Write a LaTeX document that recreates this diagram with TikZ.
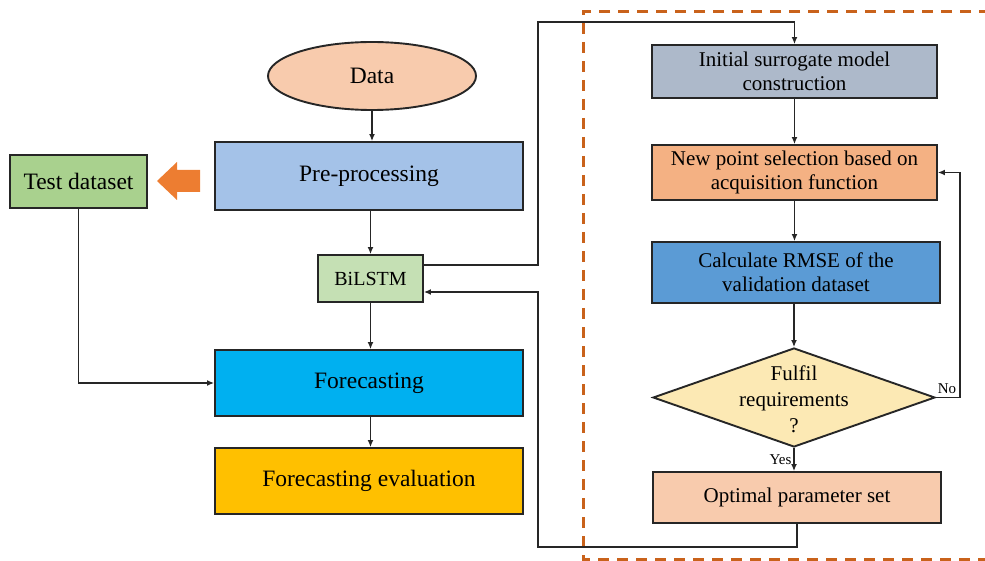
\documentclass[tikz,border=0pt]{standalone}
\usepackage{fontspec}
\setmainfont{Liberation Serif}
\usetikzlibrary{shapes.geometric,arrows.meta}
\definecolor{cData}{HTML}{F8CBAD}
\definecolor{cPre}{HTML}{A4C2E8}
\definecolor{cTest}{HTML}{A9D18E}
\definecolor{cBi}{HTML}{C5E0B4}
\definecolor{cFore}{HTML}{00B0F0}
\definecolor{cEval}{HTML}{FFC000}
\definecolor{cInit}{HTML}{ADB9CA}
\definecolor{cNew}{HTML}{F4B183}
\definecolor{cRmse}{HTML}{5B9BD5}
\definecolor{cDia}{HTML}{FCE9B4}
\definecolor{cOpt}{HTML}{F8CBAD}
\definecolor{cArr}{HTML}{ED7D31}
\definecolor{cDash}{HTML}{C9621B}
\definecolor{cLine}{HTML}{262626}
\tikzset{
  boxs/.style={draw=cLine, line width=1.9pt, rectangle, inner sep=0pt, align=center},
  bigtext/.style={font=\fontsize{23.5}{27}\selectfont},
  midtext/.style={font=\fontsize{21}{24}\selectfont},
  smalltext/.style={font=\fontsize{15}{17}\selectfont},
  conn/.style={draw=cLine, line width=1.3pt},
  arr/.style={conn, -{Latex[length=7pt,width=6pt]}},
}
\begin{document}
\begin{tikzpicture}[x=1pt,y=-1pt]
\useasboundingbox (0,0) rectangle (985,561);
% dashed frame
\draw[cDash, line width=3pt, dash pattern=on 11pt off 8pt] (990,12) -- (583,12) -- (583,559) -- (990,559);
% left column
\node[ellipse, draw=cLine, line width=1.9pt, fill=cData, minimum width=208, minimum height=68, inner sep=0pt, bigtext] (data) at (372,76) {Data};
\node[boxs, fill=cPre, minimum width=308, minimum height=68, bigtext] (pre) at (369,176) {Pre-processing};
\node[boxs, fill=cTest, minimum width=137, minimum height=53, bigtext] (test) at (78.5,181.5) {Test dataset};
\node[boxs, fill=cBi, minimum width=105, minimum height=47, font=\fontsize{20}{23}\selectfont] (bi) at (370.5,278.5) {BiLSTM};
\node[boxs, fill=cFore, minimum width=308, minimum height=66, bigtext] (fore) at (369,383) {Forecasting};
\node[boxs, fill=cEval, minimum width=308, minimum height=66, bigtext] (eval) at (369,481) {Forecasting evaluation};
% orange arrow
\fill[cArr] (157,181) -- (177,162) -- (177,170) -- (200,170) -- (200,192) -- (177,192) -- (177,200) -- cycle;
% right column
\node[boxs, fill=cInit, minimum width=285, minimum height=53, midtext] (init) at (794.5,71.5) {Initial surrogate model\\construction};
\node[boxs, fill=cNew, minimum width=285, minimum height=55, midtext] (newp) at (794.5,172.5) {New point selection based on\\acquisition function};
\node[boxs, fill=cRmse, minimum width=288, minimum height=61, midtext] (rmse) at (796,272.5) {Calculate RMSE of the\\validation dataset};
\node[diamond, draw=cLine, line width=1.9pt, fill=cDia, minimum width=282, minimum height=99, inner sep=0pt, aspect=2.85] (dia) at (794,397.5) {};
\node[align=center, inner sep=0pt, font=\fontsize{21}{26}\selectfont] (diatext) at (794,399) {Fulfil\\requirements\\?};
\node[boxs, fill=cOpt, minimum width=288, minimum height=51, midtext] (opt) at (797,497.5) {Optimal parameter set};
\coordinate (c1) at (538,22);
\coordinate (c2) at (538,547);
\coordinate (c3) at (960,397.5);
% connectors
\draw[arr] (data.south) -- (data.south |- pre.north);
\draw[arr] (bi.north |- pre.south) -- (bi.north);
\draw[arr] (bi.south) -- (bi.south |- fore.north);
\draw[arr] (bi.south |- fore.south) -- (bi.south |- eval.north);
\draw[arr] (test.south) |- (fore.west);
\draw[arr] ([yshift=13.5pt]bi.east) -| (c1) -| (init.north);
\draw[arr] (opt.south) |- (c2) |- ([yshift=-13.5pt]bi.east);
\draw[arr] (init.south) -- (newp.north);
\draw[arr] (newp.south) -- (newp.south |- rmse.north);
\draw[arr] (dia.north |- rmse.south) -- (dia.north);
\draw[arr] (dia.south) -- node[left, smalltext, inner sep=2pt] {Yes} (dia.south |- opt.north);
\draw[arr] (dia.east) -- (c3) |- (newp.east);
\node[smalltext, anchor=south, inner sep=1pt] (no) at (947,395) {No};
\end{tikzpicture}
\end{document}
